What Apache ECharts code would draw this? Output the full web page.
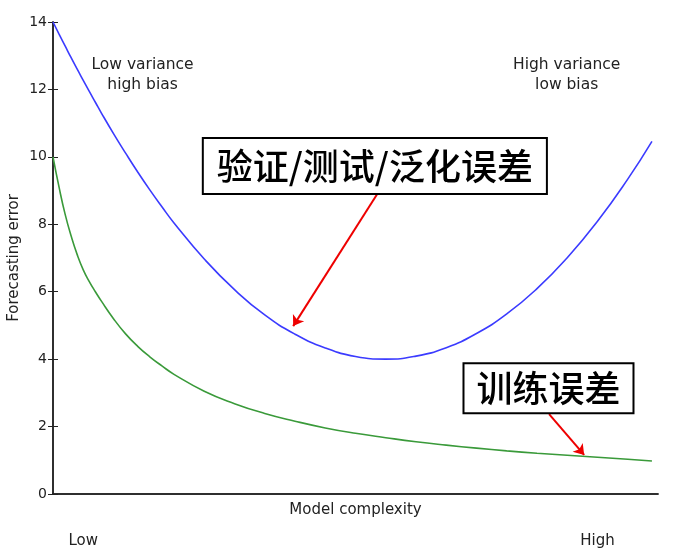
<!DOCTYPE html>
<html lang="en">
<head>
    <meta charset="UTF-8">
    <title>Model complexity</title>
    <script src="https://cdn.jsdelivr.net/npm/echarts@6/dist/echarts.min.js"></script>
</head>
<style type="text/css">
    html,body,#chart{
        width: 100%;
        height: 100%;
        margin: 0;
        padding: 0;
        background: #fff;
    }
    #chart{
        width: 685px;
        height: 556px;
    }
</style>
<body>
<div id="chart"></div>
<script>
    // values, x runs 0..100 (low -> high complexity)
    var xs = [0, 1, 2, 3, 4, 5, 6, 7, 8, 10, 12, 14, 16, 18, 20, 25, 30, 35, 40, 45, 50, 55, 60, 65, 70, 75, 80, 85, 90, 95, 99];
    var testErr = [14.0, 13.64, 13.29, 12.94, 12.6, 12.27, 11.94, 11.62, 11.3, 10.69, 10.11, 9.55, 9.02, 8.52, 8.04, 6.97, 6.06, 5.31, 4.74, 4.33, 4.08, 4.0, 4.09, 4.34, 4.76, 5.34, 6.09, 7.01, 8.09, 9.34, 10.46];
    var trainErr = [10.0, 9.1, 8.3, 7.65, 7.1, 6.65, 6.3, 6.0, 5.72, 5.2, 4.75, 4.38, 4.07, 3.8, 3.55, 3.05, 2.68, 2.39, 2.16, 1.96, 1.8, 1.67, 1.55, 1.45, 1.36, 1.28, 1.21, 1.15, 1.09, 1.03, 0.98];
    var xTickPos = [5, 90];
    var xTickLabels = ['Low', 'High'];

    function pairs(x, y){
        var out = [];
        for(var i=0;i<x.length;i++){
            out.push([x[i], y[i]]);
        }
        return out;
    }

    var textFont = 'DejaVu Sans';
    var cjkFont = '"Noto Sans CJK SC"';

    var boxLabel = {
        show: true,
        position: 'inside',
        color: '#000',
        fontFamily: cjkFont,
        fontSize: 36,
        fontWeight: 500,
        backgroundColor: '#fff',
        borderColor: '#000',
        borderWidth: 2
    };

    var noteLabel = {
        show: true,
        position: 'inside',
        fontFamily: textFont,
        fontSize: 15.5,
        lineHeight: 20,
        align: 'center',
        color: '#222'
    };

    var myChart = echarts.init(document.getElementById('chart'));
    var options = {
        animation: false,
        backgroundColor: '#fff',
        grid: {
            left: 53,
            right: 27,
            top: 22,
            bottom: 62,
            containLabel: false,
            outerBoundsMode: 'none'
        },
        xAxis: [{
            type: 'value',
            min: 0,
            max: 100,
            name: 'Model complexity',
            nameLocation: 'middle',
            nameGap: 9,
            nameMoveOverlap: false,
            nameTextStyle: {
                fontFamily: textFont,
                fontSize: 15,
                color: '#222',
                verticalAlign: 'top'
            },
            axisLine: {lineStyle: {color: '#222', width: 1.5}},
            axisTick: {show: false},
            splitLine: {show: false},
            axisLabel: {
                customValues: xTickPos,
                margin: 40,
                fontFamily: textFont,
                fontSize: 15,
                color: '#222',
                formatter: function(v){
                    var k = xTickPos.indexOf(v);
                    return k >= 0 ? xTickLabels[k] : '';
                }
            }
        }, {
            type: 'value',
            min: 0,
            max: 100,
            position: 'top',
            axisLine: {lineStyle: {color: '#222', width: 1.5}},
            axisTick: {show: false},
            axisLabel: {show: false},
            splitLine: {show: false}
        }],
        yAxis: [{
            type: 'value',
            min: 0,
            max: 14,
            interval: 2,
            name: 'Forecasting error',
            nameLocation: 'middle',
            nameGap: 31,
            nameMoveOverlap: false,
            nameTextStyle: {
                fontFamily: textFont,
                fontSize: 15,
                color: '#222'
            },
            axisLine: {show: true, lineStyle: {color: '#222', width: 1.5}},
            axisTick: {show: true, inside: true, length: 5, lineStyle: {color: '#222'}},
            splitLine: {show: false},
            axisLabel: {
                margin: 6,
                fontFamily: textFont,
                fontSize: 14,
                color: '#222'
            }
        }, {
            type: 'value',
            min: 0,
            max: 14,
            interval: 2,
            position: 'right',
            axisLine: {show: true, lineStyle: {color: '#222', width: 1.5}},
            axisTick: {show: true, inside: true, length: 5, lineStyle: {color: '#222'}},
            axisLabel: {show: false},
            splitLine: {show: false}
        }],
        series: [{
            name: 'test',
            type: 'line',
            smooth: true,
            showSymbol: false,
            symbol: 'none',
            lineStyle: {color: '#3b3bff', width: 1.6},
            data: pairs(xs, testErr),
            markLine: {
                silent: true,
                symbol: ['none', 'arrow'],
                symbolSize: 10,
                label: {show: false},
                lineStyle: {color: '#ee0000', width: 2, type: 'solid'},
                data: [
                    [{coord: [53.7, 8.93]}, {coord: [39.7, 4.98]}],
                    [{coord: [82.0, 2.37]}, {coord: [87.8, 1.16]}]
                ]
            },
            markPoint: {
                silent: true,
                symbol: 'circle',
                symbolSize: 1,
                itemStyle: {color: 'rgba(0,0,0,0)'},
                data: [{
                    coord: [53.2, 9.73],
                    label: Object.assign({}, boxLabel, {
                        formatter: '验证/测试/泛化误差',
                        padding: [9, 13, 9, 13]
                    })
                }, {
                    coord: [81.9, 3.14],
                    label: Object.assign({}, boxLabel, {
                        formatter: '训练误差',
                        padding: [6, 12, 6, 12]
                    })
                }, {
                    coord: [14.8, 12.43],
                    label: Object.assign({}, noteLabel, {formatter: 'Low variance\nhigh bias'})
                }, {
                    coord: [84.9, 12.43],
                    label: Object.assign({}, noteLabel, {formatter: 'High variance\nlow bias'})
                }]
            }
        }, {
            name: 'train',
            type: 'line',
            smooth: true,
            showSymbol: false,
            symbol: 'none',
            lineStyle: {color: '#3a9a3a', width: 1.6},
            data: pairs(xs, trainErr)
        }]
    };
    myChart.setOption(options);
</script>
</body>
</html>
